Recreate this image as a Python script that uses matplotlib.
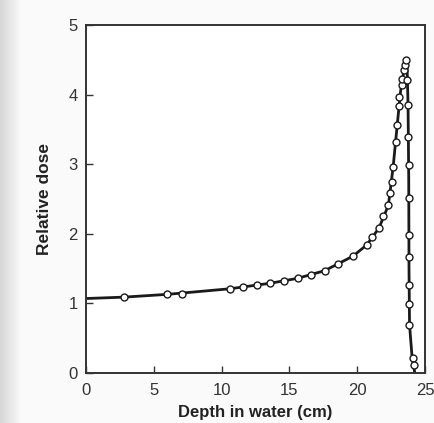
import numpy as np
import matplotlib
matplotlib.use("Agg")
import matplotlib.pyplot as plt

# Measured points (open circles)
depth_pts = [2.8, 6.0, 7.1, 10.6, 11.6, 12.6, 13.6, 14.6, 15.6, 16.6, 17.6, 18.6,
             19.7, 20.7, 21.1, 21.6, 21.9, 22.3, 22.4, 22.55, 22.65, 22.85, 22.95,
             23.05, 23.1, 23.28, 23.33, 23.45, 23.5, 23.6,
             23.7, 23.75, 23.77, 23.79, 23.8, 23.8, 23.8, 23.82, 23.82, 23.84,
             24.09, 24.19]
dose_pts = [1.09, 1.13, 1.14, 1.21, 1.24, 1.26, 1.29, 1.32, 1.36, 1.41, 1.47, 1.56,
            1.68, 1.84, 1.95, 2.08, 2.25, 2.41, 2.58, 2.75, 2.96, 3.32, 3.56,
            3.83, 3.97, 4.14, 4.23, 4.35, 4.43, 4.49,
            4.21, 3.85, 3.39, 2.99, 2.51, 1.98, 1.66, 1.26, 0.99, 0.69,
            0.21, 0.11]

# Smooth curve through the data
depth_curve = [0.0, 2.8, 6.0, 10.6, 13.6, 15.6, 17.6, 19.7, 20.7, 21.6, 22.3,
               22.65, 22.95, 23.2, 23.45, 23.6, 23.68, 23.75, 23.8, 23.82,
               23.86, 24.05, 24.25]
dose_curve = [1.07, 1.09, 1.13, 1.21, 1.29, 1.36, 1.47, 1.68, 1.84, 2.08, 2.41,
              2.96, 3.56, 4.05, 4.35, 4.49, 4.40, 3.85, 2.8, 1.5,
              0.69, 0.22, 0.0]

x_ticks = [0, 5, 10, 15, 20, 25]
y_ticks = [0, 1, 2, 3, 4, 5]

plt.rcParams['font.family'] = ['Liberation Sans', 'DejaVu Sans']

fig = plt.figure(figsize=(4.35, 4.23), dpi=100)
fig.patch.set_facecolor('#fafafa')

# scanned-page gray strip on the left
bg = fig.add_axes([0, 0, 0.05, 1])
grad = np.linspace(0.84, 0.98, 50).reshape(1, -1)
bg.imshow(grad, aspect='auto', cmap='gray', vmin=0, vmax=1, extent=[0, 1, 0, 1])
bg.axis('off')

ax = fig.add_axes([86/435, 1 - 373/423, 339/435, 348/423])
ax.set_facecolor('white')

ax.plot(depth_curve, dose_curve, color='#1a1a1a', lw=2.0, zorder=2)
ax.plot(depth_pts, dose_pts, linestyle='none', marker='o', ms=5.0,
        mfc='white', mec='#1a1a1a', mew=1.0, zorder=3)

ax.set_xlim(0, 25)
ax.set_ylim(0, 5)
ax.set_xticks(x_ticks)
ax.set_yticks(y_ticks)
ax.tick_params(direction='in', length=5, width=1, colors='#333333',
               labelsize=12, labelcolor='#333333')
ax.tick_params(axis='x', pad=7)
ax.tick_params(axis='y', pad=6)
ax.tick_params(top=False, right=False)
for s in ax.spines.values():
    s.set_linewidth(1.4)
    s.set_color('#333333')

ax.set_xlabel('Depth in water (cm)', fontsize=12, fontweight='bold',
              color='#222222', labelpad=5)
ax.set_ylabel('Relative dose', fontsize=12.5, fontweight='bold',
              color='#222222', labelpad=12)

fig.savefig('out.png', dpi=100, facecolor=fig.get_facecolor())
